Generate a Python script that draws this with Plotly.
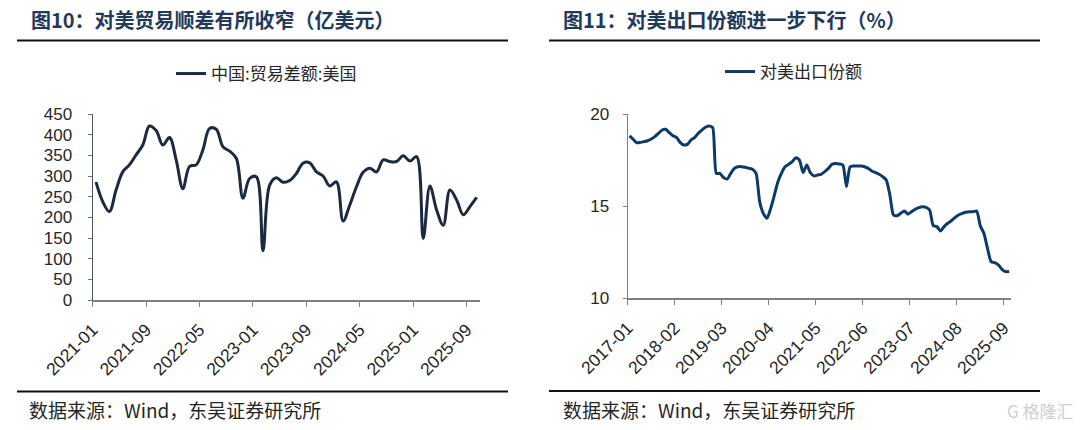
import pandas as pd
import plotly.graph_objects as go

# ---------------- data ----------------
months_left = [str(p) for p in pd.period_range("2021-01", "2025-10", freq="M")]
trade_surplus_us = [
    285, 238, 214, 266, 310, 327, 351, 375, 421, 410, 375, 393,
    339, 269, 323, 327, 363, 415, 413, 371, 360, 343, 246, 294,
    298, 119, 278, 296, 285, 289, 306, 331, 332, 310, 300, 276,
    286, 191, 230, 274, 309, 319, 310, 339, 335, 335, 349, 336,
    347, 149, 276, 218, 181, 266, 242, 206, 226, 248,
]
left_ticklabels = ["2021-01", "2021-09", "2022-05", "2023-01",
                   "2023-09", "2024-05", "2025-01", "2025-09"]

months_right = [str(p) for p in pd.period_range("2017-01", "2025-10", freq="M")]
us_export_share = [
    18.81, 18.63, 18.44, 18.46, 18.50, 18.55, 18.64, 18.77, 18.95, 19.13, 19.17, 18.99,
    18.82, 18.73, 18.46, 18.32, 18.35, 18.59, 18.72, 18.95, 19.13, 19.28, 19.35, 19.26,
    16.78, 16.78, 16.55, 16.47, 16.78, 17.05, 17.14, 17.14, 17.11, 17.05, 17.00, 16.78,
    15.24, 14.61, 14.34, 14.85, 15.55, 16.30, 16.78, 17.14, 17.27, 17.41, 17.63, 17.50,
    16.82, 17.23, 16.82, 16.64, 16.69, 16.73, 16.87, 17.05, 17.27, 17.32, 17.29, 17.23,
    16.06, 17.14, 17.18, 17.18, 17.18, 17.14, 17.05, 16.91, 16.82, 16.73, 16.60, 16.42,
    15.61, 14.52, 14.48, 14.61, 14.74, 14.56, 14.70, 14.83, 14.92, 14.97, 14.94, 14.79,
    13.94, 13.89, 13.65, 13.89, 14.07, 14.21, 14.38, 14.52, 14.61, 14.67, 14.70, 14.70,
    14.74, 13.94, 13.53, 12.71, 11.99, 11.93, 11.81, 11.57, 11.45, 11.45,
]
right_ticklabels = ["2017-01", "2018-02", "2019-03", "2020-04", "2021-05",
                    "2022-06", "2023-07", "2024-08", "2025-09"]

# ---------------- figure ----------------
W, H = 1080, 430
CJK = "Noto Sans CJK SC"
LAT = "Liberation Sans"

xl = [i + 0.5 for i in range(len(months_left))]
xr = [i + 0.5 for i in range(len(months_right))]

fig = go.Figure()
fig.add_trace(go.Scatter(
    x=xl, y=trade_surplus_us, mode="lines", name="中国:贸易差额:美国",
    line=dict(color="#1b2a41", width=3, shape="spline", smoothing=1.0),
    customdata=months_left, hovertemplate="%{customdata}: %{y}<extra></extra>",
    xaxis="x", yaxis="y", legend="legend",
))
fig.add_trace(go.Scatter(
    x=xr, y=us_export_share, mode="lines", name="对美出口份额",
    line=dict(color="#0c3b69", width=3, shape="spline", smoothing=0.6),
    customdata=months_right, hovertemplate="%{customdata}: %{y}<extra></extra>",
    xaxis="x2", yaxis="y2", legend="legend2",
))

def px(v):
    return v / W

def py(v):
    return 1 - v / H

tickfont = dict(family=LAT, size=17, color="#262626")
xtickfont = dict(family=LAT, size=17.5, color="#262626")

left_tickvals = [months_left.index(t) for t in left_ticklabels]
right_tickvals = [months_right.index(t) for t in right_ticklabels]

fig.update_layout(
    width=W, height=H,
    margin=dict(l=0, r=0, t=0, b=0, autoexpand=False),
    paper_bgcolor="white", plot_bgcolor="white",
    showlegend=True,
    xaxis=dict(
        domain=[px(92.7), px(480)], range=[0, len(months_left)],
        tickmode="array", tickvals=left_tickvals, ticktext=left_ticklabels,
        tickangle=-45, tickfont=xtickfont, ticks="outside", ticklen=5,
        tickcolor="#808080", showline=True, linecolor="#808080", linewidth=1.5,
        showgrid=False, zeroline=False, anchor="y", fixedrange=True, automargin=False,
        ticklabelstandoff=6,
    ),
    yaxis=dict(
        domain=[py(300), py(114)], range=[0, 450], dtick=50,
        tickfont=tickfont, ticks="outside", ticklen=4, tickcolor="#6b7585",
        showline=True, linecolor="#4a5566", linewidth=1.3,
        showgrid=False, zeroline=False, anchor="x", ticklabelstandoff=12,
        fixedrange=True, automargin=False,
    ),
    xaxis2=dict(
        domain=[px(627.7), px(1011)], range=[0, len(months_right)],
        tickmode="array", tickvals=right_tickvals, ticktext=right_ticklabels,
        tickangle=-45, tickfont=xtickfont, ticks="outside", ticklen=5,
        tickcolor="#808080", showline=True, linecolor="#808080", linewidth=1.5,
        showgrid=False, zeroline=False, anchor="y2", fixedrange=True, automargin=False,
        ticklabelstandoff=6,
    ),
    yaxis2=dict(
        domain=[py(298.3), py(114)], range=[10, 20], dtick=5,
        tickfont=tickfont, ticks="outside", ticklen=4, tickcolor="#808080",
        showline=True, linecolor="#808080", linewidth=1.3,
        showgrid=False, zeroline=False, anchor="x2", ticklabelstandoff=10,
        fixedrange=True, automargin=False,
    ),
    legend=dict(
        x=px(171), y=py(74), xanchor="left", yanchor="middle",
        font=dict(family=CJK, size=17, color="#262626"),
        bgcolor="rgba(0,0,0,0)",
    ),
    legend2=dict(
        x=px(720), y=py(72), xanchor="left", yanchor="middle",
        font=dict(family=CJK, size=17, color="#262626"),
        bgcolor="rgba(0,0,0,0)",
    ),
)

title_color = "#22395a"
anns = [
    dict(text="<b>图10：对美贸易顺差有所收窄（亿美元）</b>", x=px(29), y=py(20)),
    dict(text="<b>图11：对美出口份额进一步下行（%）</b>", x=px(561), y=py(20)),
]
for a in anns:
    fig.add_annotation(xref="paper", yref="paper", xanchor="left", yanchor="middle",
                       showarrow=False, font=dict(family=CJK, size=20, color=title_color),
                       **a)
for x0 in (27, 561):
    fig.add_annotation(text="数据来源：Wind，东吴证券研究所", xref="paper", yref="paper",
                       x=px(x0), y=py(409), xanchor="left", yanchor="middle",
                       showarrow=False, font=dict(family=CJK, size=19, color="#262626"))
# watermark
fig.add_annotation(text="G 格隆汇", xref="paper", yref="paper", x=px(1076), y=py(410),
                   xanchor="right", yanchor="middle", showarrow=False,
                   font=dict(family=CJK, size=17, color="#cfcfcf"))

# rules
for (x0, x1, y) in [(17, 508, 40.5), (549, 1040, 40.5), (17, 508, 391.5), (549, 1040, 391)]:
    fig.add_shape(type="line", xref="paper", yref="paper",
                  x0=px(x0), x1=px(x1), y0=py(y), y1=py(y),
                  line=dict(color="#111111", width=2))

fig.write_html("out.html", config={"displayModeBar": False},
               post_script="document.body.style.margin='0px';")
